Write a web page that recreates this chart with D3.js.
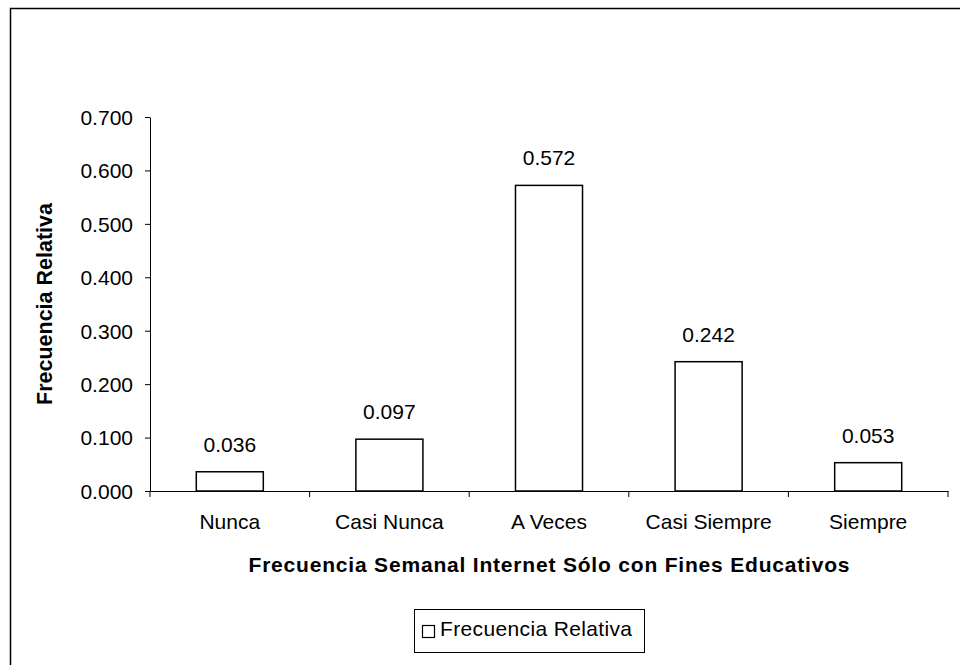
<!DOCTYPE html>
<html><head><meta charset="utf-8">
<script src="https://cdn.jsdelivr.net/npm/d3@7"></script>
<style>body{margin:0;background:#fff}svg{display:block}</style>
</head><body>
<svg id="c" width="960" height="665"></svg>
<script>
const categories = ["Nunca", "Casi Nunca", "A Veces", "Casi Siempre", "Siempre"];
const values = [0.036, 0.097, 0.572, 0.242, 0.053];
const yTicks = [0, 0.1, 0.2, 0.3, 0.4, 0.5, 0.6, 0.7];
const seriesName = "Frecuencia Relativa";
const xTitle = "Frecuencia Semanal Internet Sólo con Fines Educativos";
const yTitle = "Frecuencia Relativa";

(function () {
const svg = d3.select("#c");
const font = "'Liberation Sans', Arial, sans-serif";
const fs = 21;

svg.append("rect").attr("x", 10.5).attr("y", 8.5).attr("width", 960).attr("height", 700)
  .attr("fill", "#fff").attr("stroke", "#000").attr("stroke-width", 1.5);

const pL = 150, pR = 948, pT = 117, pB = 491;
const x = d3.scaleBand().domain(categories).range([pL, pR]).padding(0);
const y = d3.scaleLinear().domain([0, 0.7]).range([pB, pT]);
const barFrac = 0.42;

const g = svg.append("g");

// y axis
const ya = g.append("g").attr("transform", `translate(${pL},0)`)
  .call(d3.axisLeft(y).tickValues(yTicks).tickFormat(d3.format(".3f")).tickSize(5).tickSizeOuter(0));
ya.select(".domain").attr("stroke", "#000");
ya.selectAll("text").attr("font-family", font).attr("font-size", fs).attr("fill", "#000").attr("x", -17).attr("dy", "0.35em");

// bars
const bw = x.bandwidth() * barFrac;
g.selectAll("rect.bar").data(values).join("rect").attr("class", "bar")
  .attr("x", (d, i) => x(categories[i]) + (x.bandwidth() - bw) / 2)
  .attr("y", d => y(d)).attr("width", bw).attr("height", d => y(0) - y(d))
  .attr("fill", "#fff").attr("stroke", "#000").attr("stroke-width", 1.5);

// x axis
const xa = g.append("g").attr("transform", `translate(0,${pB})`)
  .call(d3.axisBottom(x).tickSize(0).tickSizeOuter(0));
xa.select(".domain").attr("stroke", "#000");
xa.selectAll("text").attr("font-family", font).attr("font-size", fs).attr("fill", "#000").attr("y", 38).attr("dy", 0);
const bounds = categories.map(c => x(c)).concat([pR]);
xa.selectAll("line.bt").data(bounds).join("line").attr("class", "bt")
  .attr("x1", d => d).attr("x2", d => d).attr("y1", 0).attr("y2", 6).attr("stroke", "#000");

// value labels
g.selectAll("text.val").data(values).join("text").attr("class", "val")
  .attr("x", (d, i) => x(categories[i]) + x.bandwidth() / 2)
  .attr("y", d => y(d) - 20).attr("text-anchor", "middle")
  .attr("font-family", font).attr("font-size", fs).text(d => d3.format(".3f")(d));

// axis titles
svg.append("text").attr("x", (pL + pR) / 2).attr("y", 572).attr("text-anchor", "middle")
  .attr("font-family", font).attr("font-size", 21).attr("font-weight", "bold")
  .attr("textLength", 601).attr("lengthAdjust", "spacing").text(xTitle);
svg.append("text").attr("transform", `translate(52,${(pT + pB) / 2}) rotate(-90)`).attr("text-anchor", "middle")
  .attr("font-family", font).attr("font-size", 21.5).attr("font-weight", "bold").text(yTitle);

// legend
const lg = svg.append("g");
lg.append("rect").attr("x", 414.5).attr("y", 609.5).attr("width", 230).attr("height", 43)
  .attr("fill", "#fff").attr("stroke", "#000").attr("stroke-width", 1);
lg.append("rect").attr("x", 422.5).attr("y", 625.5).attr("width", 12).attr("height", 12)
  .attr("fill", "#fff").attr("stroke", "#000").attr("stroke-width", 1.2);
lg.append("text").attr("x", 440).attr("y", 636).attr("font-family", font).attr("font-size", fs)
  .attr("textLength", 192).attr("lengthAdjust", "spacing").text(seriesName);
})();
</script>
</body></html>
